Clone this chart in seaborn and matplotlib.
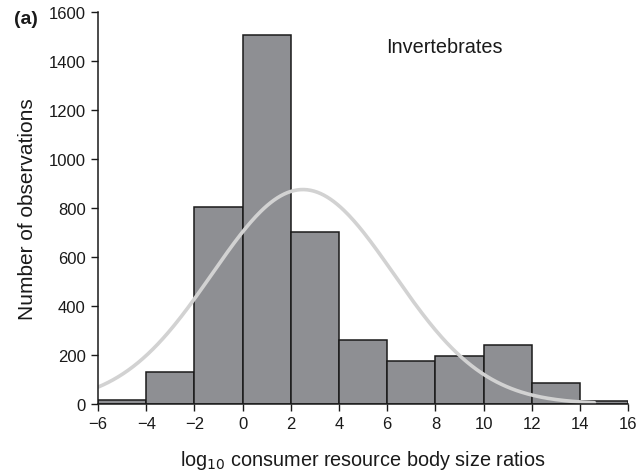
import numpy as np
import pandas as pd
import matplotlib
matplotlib.use("Agg")
import matplotlib.pyplot as plt
import seaborn as sns

# Data
bin_edges = [-6, -4, -2, 0, 2, 4, 6, 8, 10, 12, 14, 16]
counts = [15, 130, 805, 1505, 700, 262, 175, 195, 240, 84, 14]
# fitted normal curve parameters (scaled to counts)
fit_mean = 2.5
fit_sd = 3.77
fit_peak = 875
curve_range = (-6, 14.6)

x_ticks = [-6, -4, -2, 0, 2, 4, 6, 8, 10, 12, 14, 16]
y_ticks = [0, 200, 400, 600, 800, 1000, 1200, 1400, 1600]

sns.set_theme(style="ticks")
plt.rcParams['font.family'] = ['Liberation Sans', 'DejaVu Sans']

centers = [(a + b) / 2 for a, b in zip(bin_edges[:-1], bin_edges[1:])]
df = pd.DataFrame({"x": centers, "n": counts})

fig = plt.figure(figsize=(6.41, 4.77), dpi=100)
ax = fig.add_axes([0.153, 0.151, 0.827, 0.822])

sns.histplot(data=df, x="x", weights="n", bins=bin_edges, ax=ax,
             color="#8e8f93", edgecolor="#1a1a1a", linewidth=1.1, alpha=1.0)

xc = np.linspace(curve_range[0], curve_range[1], 300)
yc = fit_peak * np.exp(-((xc - fit_mean) ** 2) / (2 * fit_sd ** 2))
sns.lineplot(x=xc, y=yc, ax=ax, color="#d2d2d2", linewidth=2.6)

ax.set_xlim(-6, 16)
ax.set_ylim(0, 1600)
ax.set_xticks(x_ticks)
ax.set_yticks(y_ticks)
ax.tick_params(axis='both', labelsize=12, length=5, width=1, direction='out',
               color="#1a1a1a", labelcolor="#1a1a1a", pad=4)
for s in ["top", "right"]:
    ax.spines[s].set_visible(False)
for s in ["left", "bottom"]:
    ax.spines[s].set_linewidth(1.1)
    ax.spines[s].set_color("#1a1a1a")

ax.set_xlabel("log$_{10}$ consumer resource body size ratios", fontsize=14.3, labelpad=12,
              color="#1a1a1a")
ax.set_ylabel("Number of observations", fontsize=15, labelpad=8, color="#1a1a1a")

ax.text(5.95, 1460, "Invertebrates", fontsize=14.3, ha="left", va="center", color="#1a1a1a")
fig.text(14 / 641, 1 - 19 / 477, "(a)", fontsize=14, fontweight="bold", ha="left",
         va="center", color="#1a1a1a")

fig.savefig("out.png", dpi=100)
